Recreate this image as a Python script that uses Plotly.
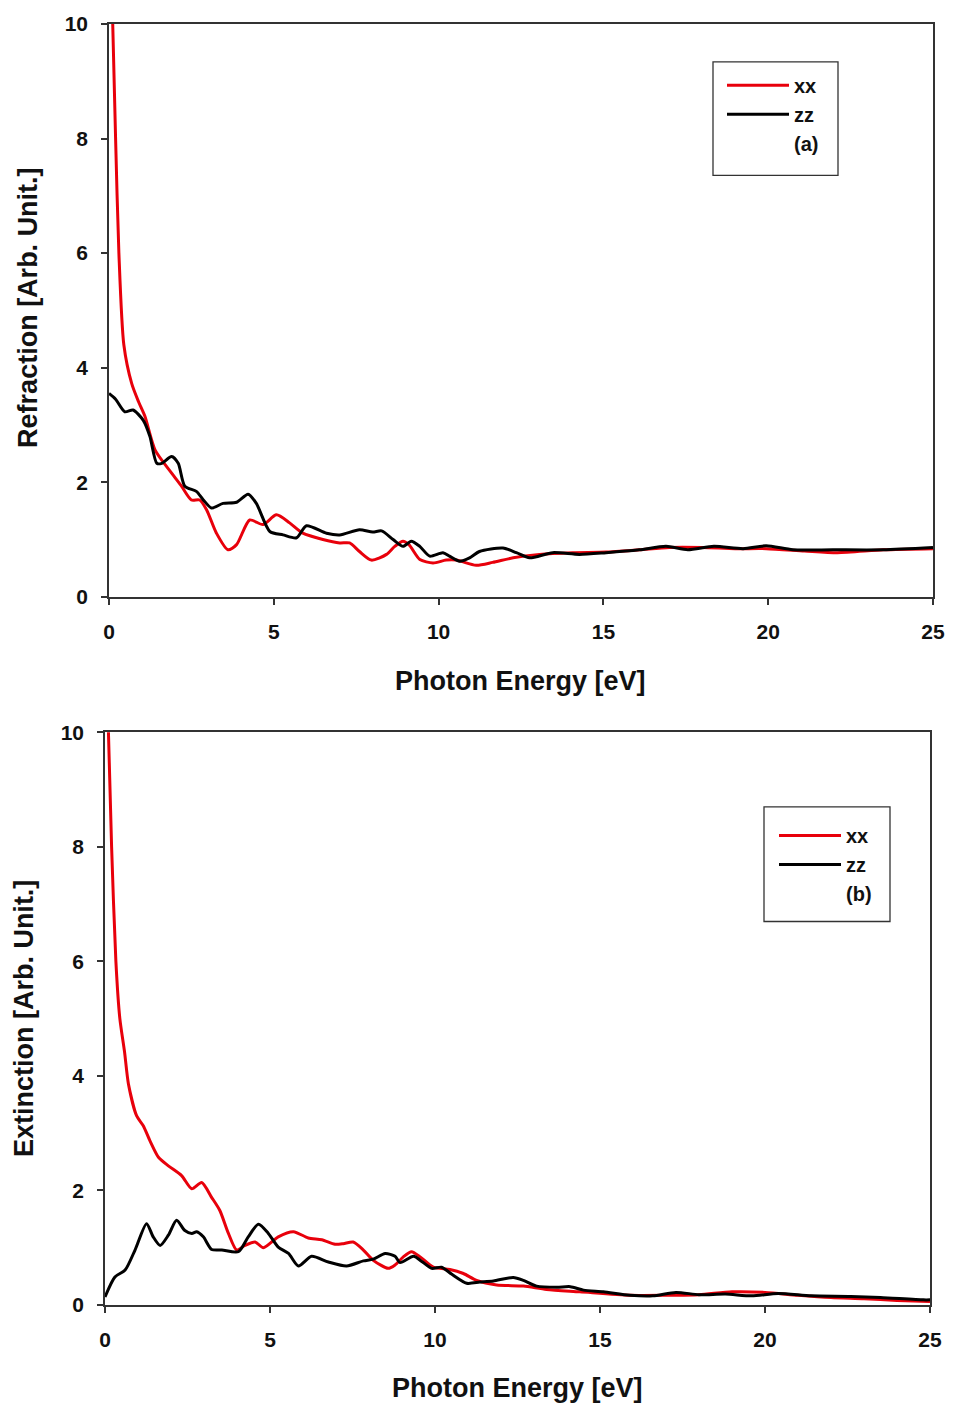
import plotly.graph_objects as go

# ---- Panel (a): Refraction ----
a_xx_x = [0.1, 0.2, 0.3, 0.45, 0.69, 0.9, 1.09, 1.4, 1.9, 2.2, 2.5, 2.75, 2.96, 3.26, 3.61, 3.87, 4.27, 4.67,
          5.08, 5.48, 5.88, 6.49, 7.0, 7.3, 7.6, 7.96, 8.42, 8.67, 8.92, 9.1, 9.43, 9.83, 10.23, 10.54, 11.14,
          11.64, 12.26, 13.06, 14.07, 15.08, 16.09, 17.0, 18.0, 19.0, 19.94, 21.1, 22.1, 23.5, 25.0]
a_xx_y = [10.3, 8.0, 6.0, 4.4, 3.72, 3.4, 3.15, 2.56, 2.16, 1.93, 1.69, 1.69, 1.52, 1.11, 0.82, 0.91, 1.34, 1.26,
          1.43, 1.29, 1.11, 1.0, 0.94, 0.94, 0.79, 0.64, 0.74, 0.88, 0.97, 0.91, 0.65, 0.59, 0.64, 0.64, 0.55,
          0.6, 0.68, 0.74, 0.77, 0.78, 0.82, 0.86, 0.86, 0.84, 0.84, 0.80, 0.77, 0.82, 0.84]

a_zz_x = [0.0, 0.2, 0.48, 0.73, 1.04, 1.24, 1.45, 1.6, 1.9, 2.1, 2.3, 2.65, 2.85, 3.11, 3.46, 3.87, 4.22, 4.47,
          4.88, 5.28, 5.69, 5.99, 6.6, 7.0, 7.6, 8.0, 8.27, 8.62, 8.92, 9.17, 9.43, 9.73, 10.13, 10.33, 10.64,
          10.94, 11.24, 11.95, 12.36, 12.76, 13.46, 14.27, 15.08, 16.09, 16.9, 17.56, 18.35, 19.24, 19.94,
          20.75, 21.96, 23.48, 25.0]
a_zz_y = [3.55, 3.45, 3.23, 3.26, 3.08, 2.8, 2.33, 2.33, 2.45, 2.33, 1.93, 1.84, 1.7, 1.55, 1.63, 1.65, 1.79, 1.63,
          1.14, 1.08, 1.03, 1.24, 1.11, 1.08, 1.17, 1.13, 1.15, 1.0, 0.88, 0.97, 0.88, 0.71, 0.77, 0.71, 0.62,
          0.68, 0.79, 0.85, 0.77, 0.68, 0.77, 0.74, 0.77, 0.82, 0.88, 0.82, 0.88, 0.84, 0.89,
          0.82, 0.82, 0.82, 0.86]

# ---- Panel (b): Extinction ----
b_xx_x = [0.09, 0.2, 0.33, 0.45, 0.59, 0.71, 0.96, 1.16, 1.36, 1.62, 1.92, 2.32, 2.63, 2.93, 3.23, 3.48, 3.74,
          3.99, 4.24, 4.55, 4.8, 5.25, 5.71, 6.16, 6.57, 6.97, 7.22, 7.52, 7.83, 8.13, 8.58, 8.79, 9.04, 9.29,
          9.55, 9.95, 10.45, 10.86, 11.26, 11.87, 12.68, 13.38, 14.39, 15.91, 17.0, 18.0, 19.0, 20.0, 21.0,
          22.0, 23.0, 24.0, 25.0]
b_xx_y = [10.3, 8.0, 6.0, 5.0, 4.43, 3.86, 3.30, 3.13, 2.87, 2.58, 2.43, 2.26, 2.03, 2.14, 1.88, 1.65, 1.25,
          0.96, 1.04, 1.10, 1.0, 1.19, 1.28, 1.17, 1.14, 1.06, 1.07, 1.10, 0.96, 0.78, 0.64, 0.70, 0.84, 0.93,
          0.84, 0.66, 0.62, 0.55, 0.43, 0.35, 0.33, 0.27, 0.23, 0.17, 0.17, 0.18, 0.23, 0.22, 0.17,
          0.13, 0.11, 0.08, 0.06]

b_zz_x = [0.0, 0.3, 0.61, 0.91, 1.26, 1.46, 1.67, 1.92, 2.17, 2.42, 2.63, 2.78, 2.98, 3.23, 3.54, 4.04, 4.34,
          4.65, 4.95, 5.25, 5.56, 5.86, 6.26, 6.77, 7.32, 7.83, 8.13, 8.49, 8.79, 8.94, 9.35, 9.6, 9.9, 10.2,
          10.5, 10.96, 11.36, 11.77, 12.37, 12.68, 13.08, 13.69, 14.1, 14.5, 15.1, 15.91, 16.6, 17.3, 18.0,
          18.8, 19.6, 20.4, 21.4, 22.6, 23.5, 24.8, 25.0]
b_zz_y = [0.14, 0.49, 0.61, 0.96, 1.42, 1.19, 1.04, 1.22, 1.48, 1.30, 1.25, 1.28, 1.19, 0.97, 0.96, 0.93, 1.19,
          1.41, 1.25, 1.01, 0.9, 0.68, 0.85, 0.75, 0.68, 0.77, 0.80, 0.9, 0.85, 0.74, 0.85, 0.76, 0.64, 0.66,
          0.54, 0.38, 0.40, 0.42, 0.48, 0.43, 0.33, 0.31, 0.32, 0.26, 0.23, 0.17, 0.16, 0.22, 0.18,
          0.19, 0.16, 0.2, 0.16, 0.15, 0.13, 0.09, 0.09]

series_names = ["xx", "zz"]
panel_tags = ["(a)", "(b)"]
x_title = "Photon Energy [eV]"
y_titles = ["Refraction [Arb. Unit.]", "Extinction [Arb. Unit.]"]

RED = "#e8000b"
BLACK = "#000000"
FONT = "Liberation Sans, Arial, sans-serif"

# page body margin is removed below (post_script), so figure pixels == page pixels
W, H = 957, 1403
L, T = 105, 19
R = W - 933
B = H - 1305
pw, ph = W - L - R, H - T - B


def px(xp):
    return (xp - L) / pw


def py(yp):
    return 1 - (yp - T) / ph


fig = go.Figure()


def add_panel(xx_x, xx_y, zz_x, zz_y, xa, ya, legend, tag):
    fig.add_trace(go.Scatter(x=xx_x, y=xx_y, mode="lines", name=series_names[0],
                             line=dict(color=RED, width=3, shape="spline", smoothing=0.7),
                             xaxis=xa, yaxis=ya, legend=legend))
    fig.add_trace(go.Scatter(x=zz_x, y=zz_y, mode="lines", name=series_names[1],
                             line=dict(color=BLACK, width=3, shape="spline", smoothing=0.7),
                             xaxis=xa, yaxis=ya, legend=legend))
    fig.add_trace(go.Scatter(x=[None], y=[None], mode="lines", name=tag,
                             line=dict(color="rgba(0,0,0,0)", width=0),
                             xaxis=xa, yaxis=ya, legend=legend))


add_panel(a_xx_x, a_xx_y, a_zz_x, a_zz_y, "x", "y", "legend", panel_tags[0])
add_panel(b_xx_x, b_xx_y, b_zz_x, b_zz_y, "x2", "y2", "legend2", panel_tags[1])

axis_common = dict(showgrid=False, zeroline=False, showline=True, mirror=True,
                   linecolor="#333333", linewidth=1.5, ticks="outside", ticklen=6,
                   tickwidth=1.5, tickcolor="#333333",
                   tickfont=dict(family=FONT, size=21, color="#111111", weight="bold"))

legend_font = dict(family=FONT, size=20, color="#111111", weight="bold")

fig.update_layout(
    width=W, height=H,
    margin=dict(l=L, r=R, t=T, b=B),
    paper_bgcolor="white", plot_bgcolor="white",
    xaxis=dict(domain=[px(109), px(933)], range=[0, 25], dtick=5, anchor="y",
               ticklabelstandoff=9, **axis_common),
    yaxis=dict(domain=[py(594), py(19)], range=[0, 10], dtick=2, anchor="x",
               ticklabelstandoff=9, **axis_common),
    xaxis2=dict(domain=[px(105), px(930)], range=[0, 25], dtick=5, anchor="y2",
                ticklabelstandoff=9, **axis_common),
    yaxis2=dict(domain=[py(1305), py(730)], range=[0, 10], dtick=2, anchor="x2",
                ticklabelstandoff=9, **axis_common),
    legend=dict(x=px(722), y=py(61), xanchor="left", yanchor="top",
                bgcolor="rgba(0,0,0,0)", borderwidth=0,
                font=legend_font, traceorder="normal", itemwidth=62, tracegroupgap=0),
    legend2=dict(x=px(774), y=py(814), xanchor="left", yanchor="top",
                 bgcolor="rgba(0,0,0,0)", borderwidth=0,
                 font=legend_font, traceorder="normal", itemwidth=62, tracegroupgap=0),
    showlegend=True,
)

# legend frames
for (x0, y0, x1, y1) in [(713, 57, 838, 171), (764, 805, 890, 920)]:
    fig.add_shape(type="rect", xref="paper", yref="paper",
                  x0=px(x0), x1=px(x1), y0=py(y1), y1=py(y0),
                  line=dict(color="#333333", width=1.3), fillcolor="rgba(0,0,0,0)", layer="below")

title_font = dict(family=FONT, size=27, color="#111111", weight="bold")
fig.add_annotation(text=x_title, xref="paper", yref="paper", x=px(520), y=py(679),
                   showarrow=False, font=title_font, xanchor="center", yanchor="middle")
fig.add_annotation(text=x_title, xref="paper", yref="paper", x=px(517), y=py(1388),
                   showarrow=False, font=title_font, xanchor="center", yanchor="middle")
fig.add_annotation(text=y_titles[0], xref="paper", yref="paper", x=px(28), y=py(304),
                   showarrow=False, textangle=-90, font=title_font,
                   xanchor="center", yanchor="middle")
fig.add_annotation(text=y_titles[1], xref="paper", yref="paper", x=px(24), y=py(1018),
                   showarrow=False, textangle=-90, font=title_font,
                   xanchor="center", yanchor="middle")

fig.write_html("out.html",
               config={"displayModeBar": False},
               post_script="document.body.style.margin='0';document.body.style.overflow='hidden';")
